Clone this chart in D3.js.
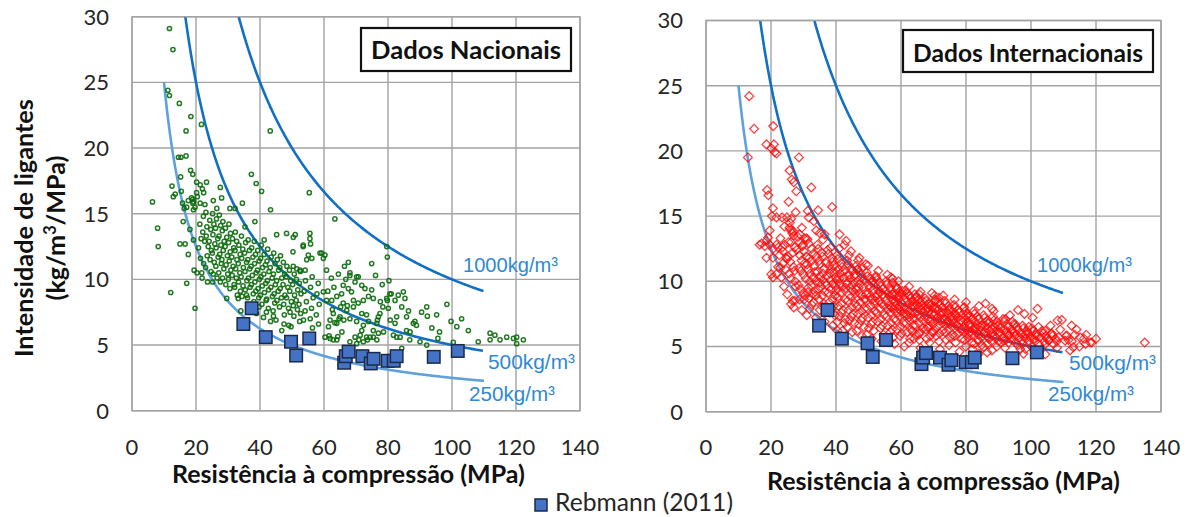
<!DOCTYPE html>
<html><head><meta charset="utf-8">
<script src="https://cdn.jsdelivr.net/npm/d3@7"></script>
<style>
html,body{margin:0;padding:0;background:#fff;}
svg{display:block;}
</style></head><body>
<svg id="chart" width="1190" height="517"></svg>
<script>
// ---- axis ticks ----
const xTicks = [0, 20, 40, 60, 80, 100, 120, 140];
const yTicks = [0, 5, 10, 15, 20, 25, 30];

// ---- iso-consumption reference curves (binder kg/m³) ----
const isoLevels = [1000, 500, 250];
const isoLabels = ["1000kg/m³", "500kg/m³", "250kg/m³"];
const isoStartX = [1000 / 30, 500 / 30, 10];
const isoEndX = 110;

// ---- Rebmann (2011): [strength MPa, intensity kg/m³/MPa] ----
const rebmann = [[34.8,6.6],[37.4,7.8],[41.8,5.6],[49.7,5.25],[51.3,4.2],[55.4,5.5],[66.3,3.65],[66.8,4.15],[67.7,4.5],[72.0,4.15],[74.6,3.6],[75.5,3.95],[79.9,3.8],[81.8,3.8],[82.7,4.15],[94.3,4.1],[101.8,4.55]];

// ---- national data ----
const dadosNacionais = [
[11.7,29.1],[12.8,27.5],[11.2,24.4],[11.7,24.0],[14.8,23.4],[18.4,22.4],[21.7,21.8],[16.9,21.3],[43.2,21.3],
[14.5,19.3],[16.9,19.4],[15.3,19.3],[18.3,18.3],[19.0,18.0],[15.2,17.8],[37.3,18.0],[38.8,17.3],[40.5,16.7],[27.6,17.0],
[20.2,17.4],[21.3,17.2],[23.3,17.4],[22.0,16.9],[22.4,16.6],[20.2,16.6],[12.5,17.1],[13.5,16.5],[12.9,16.3],[15.4,16.7],
[6.4,15.9],[15.8,15.8],[17.6,16.0],[19.0,16.1],[20.4,16.3],[16.3,15.4],[19.0,15.8],[21.3,15.8],[22.8,15.7],[25.4,16.0],[28.0,16.2],
[30.6,15.4],[32.2,15.4],[34.5,15.8],[43.3,15.3],[26.5,15.4],[8.0,13.9],[16.0,14.4],[38.4,14.4],[35.3,14.0],[48.3,13.5],[50.4,13.2],[45.2,13.4],[41.3,13.0],[15.0,12.7],[16.6,12.7],
[55.4,16.6],[63.4,14.6],[51.0,13.4],[55.6,13.5],[55.6,13.1],[55.8,12.7],[53.5,12.5],[79.6,12.5],[79.8,11.7],
[18.1,13.8],[19.2,13.0],[17.6,11.9],[8.2,12.5],[17.1,9.7],[12.1,9.0],[19.7,7.8],[19.4,10.7],[20.3,10.5],[21.8,10.5],[23.6,9.8],[25.2,9.8],[17.1,15.5],[19.2,15.3],[19.7,15.5],[18.6,16.2],[19.3,15.9],
[29.6,8.55],[33.2,8.55],[35.8,8.8],[44.2,7.2],[46.8,6.1],
[59.3,12.0],[60.3,11.85],[74.9,11.2],[60.8,10.7],[68.1,10.5],[70.2,10.2],[67.6,11.3],
[84.8,9.05],[85.3,8.55],[82.2,8.4],[83.2,8.8],[79.6,8.55],[92.1,7.9],[90.5,7.5],[92.3,7.2],[98.4,8.1],[103.0,7.0],[101.5,6.4],[105.1,6.1],[93.7,6.3],[87.9,6.65],[88.4,6.8],[88.9,6.5],[85.8,6.1],[86.9,6.0],[92.1,5.0],[84.3,4.75],[90.0,5.25],
[108.2,5.25],[111.9,5.9],[111.9,5.4],[113.4,5.75],[115.0,5.4],[117.1,5.6],[119.2,5.5],[120.2,5.1],[122.3,5.4],[120.2,5.6],
[49.7,6.4],[61.9,5.5],[62.9,5.4],[64.0,5.4],[68.1,5.25],[70.2,5.1],[72.3,5.25],[73.3,5.6],[75.4,5.6],[81.7,5.75],[82.7,5.6],
[85.8,7.15],[84.3,7.9],[80.6,8.9],[79.8,8.4],[80.1,7.8],[82.7,7.15],[82.2,6.65],[83.8,5.6],
[77.5,7.4],[77.0,7.15],[76.5,6.65],[75.4,6.1],[74.4,5.6],[73.3,7.3],[73.9,6.8],[72.3,6.5],[71.8,6.1],[71.3,5.75],
[68.1,10.3],[70.7,10.2],[69.7,9.8],[71.8,9.55],[72.8,9.3],[74.9,9.2],[75.4,8.55],[73.9,8.7],[72.3,8.4],[70.7,8.2],[69.2,8.4],[68.6,9.05],[67.6,9.3],[66.0,9.55],[65.5,8.9],[64.0,8.7],[62.4,8.4],[60.8,8.4],[59.8,9.05],[61.2,9.1],
[66.0,8.2],[67.1,7.65],[65.0,7.15],[62.9,7.4],[61.9,6.9],[61.4,6.4],[64.0,6.65],[68.1,7.0],[70.2,6.8],[71.8,7.4],[69.2,7.9],
[69.7,5.6],[70.9,5.4],[73.6,5.4],[76.5,5.4],[77.0,5.9],[60.3,5.6],[61.6,5.7],[64.3,5.65],
[53.5,12.6],[55.1,11.85],[56.2,11.6],[54.6,11.5],[54.1,10.7],[52.5,10.7],[51.5,10.8],[50.4,11.0],[58.75,12.0],[59.8,11.6],
[21.2,14.2],[21.6,13.1],[20.8,12.4],[21.4,11.6],
[22.3,14.8],[22.1,13.6],[22.7,12.9],[22.4,11.2],[21.9,10.1],
[23.1,15.1],[23.4,14.0],[23.2,13.3],[23.8,12.5],[23.5,11.8],[23.0,10.9],
[24.3,14.5],[24.6,13.8],[24.1,12.9],[24.8,12.2],[24.4,11.5],[24.7,10.6],
[25.2,15.0],[25.6,14.2],[25.3,13.4],[25.9,12.7],[25.1,12.0],[25.7,11.3],[25.4,10.4],
[26.4,14.6],[26.1,13.9],[26.8,13.1],[26.3,12.4],[26.9,11.7],[26.2,11.0],[26.6,10.1],
[27.3,14.9],[27.7,14.1],[27.2,13.3],[27.8,12.6],[27.4,11.9],[27.9,11.2],[27.1,10.5],[27.6,9.8],
[28.4,14.4],[28.2,13.7],[28.8,12.9],[28.5,12.2],[28.1,11.5],[28.7,10.8],[28.3,10.1],
[29.2,13.9],[29.6,13.2],[29.1,12.5],[29.8,11.8],[29.4,11.1],[29.9,10.4],[29.3,9.6],
[30.3,14.2],[30.8,13.5],[30.2,12.8],[30.7,12.1],[30.4,11.4],[30.9,10.7],[30.1,10.0],[30.6,9.3],
[31.4,13.1],[31.8,12.4],[31.2,11.7],[31.6,11.0],[31.3,10.3],[31.9,9.6],
[32.3,13.6],[32.7,12.9],[32.2,12.2],[32.8,11.5],[32.4,10.8],[32.6,10.1],[32.1,9.4],[32.9,8.8],
[33.4,12.6],[33.8,11.9],[33.2,11.2],[33.7,10.5],[33.3,9.8],[33.9,9.1],
[34.2,13.3],[34.6,12.3],[34.3,11.6],[34.8,10.9],[34.1,10.2],[34.7,9.5],[34.4,8.7],
[35.5,12.8],[35.2,12.0],[35.8,11.3],[35.3,10.6],[35.9,9.9],[35.4,9.2],
[36.3,13.0],[36.7,12.2],[36.2,11.5],[36.8,10.8],[36.4,10.1],[36.9,9.4],[36.1,8.6],
[37.4,12.4],[37.8,11.7],[37.2,11.0],[37.6,10.3],[37.3,9.6],[37.9,8.9],
[38.2,12.9],[38.6,11.9],[38.3,11.2],[38.8,10.5],[38.4,9.8],[38.7,9.1],[38.1,8.3],
[39.3,12.2],[39.7,11.4],[39.2,10.7],[39.8,10.0],[39.4,9.3],[39.6,8.6],
[40.4,12.6],[40.2,11.6],[40.8,10.9],[40.3,10.2],[40.7,9.5],[40.1,8.8],[40.6,8.1],
[41.3,11.9],[41.7,11.1],[41.2,10.4],[41.8,9.7],[41.4,9.0],[41.9,8.4],
[42.4,12.3],[42.2,11.4],[42.8,10.6],[42.3,9.9],[42.7,9.2],[42.1,8.5],[42.6,7.8],
[43.5,11.7],[43.2,10.9],[43.8,10.1],[43.4,9.4],[43.9,8.7],
[44.3,12.0],[44.7,11.2],[44.2,10.4],[44.8,9.6],[44.4,8.9],[44.6,8.2],[44.1,7.6],
[45.4,11.5],[45.8,10.7],[45.2,9.9],[45.7,9.1],[45.3,8.4],
[46.4,11.8],[46.2,10.9],[46.8,10.1],[46.3,9.3],[46.7,8.6],[46.1,7.9],
[47.3,11.3],[47.7,10.4],[47.2,9.6],[47.8,8.8],[47.4,8.1],[47.6,7.3],
[48.4,11.0],[48.2,10.2],[48.7,9.4],[48.3,8.6],[48.9,7.8],
[49.2,10.7],[49.6,9.9],[49.3,9.1],[49.8,8.3],[49.4,7.5],
[50.3,12.1],[50.7,10.4],[50.2,9.6],[50.8,8.8],[50.4,8.0],[50.6,7.2],
[51.4,10.0],[51.8,9.2],[51.3,8.4],[51.7,7.7],
[52.6,10.6],[52.3,9.7],[52.8,8.9],[52.2,8.1],[52.7,7.4],[52.4,6.8],
[54.2,9.9],[53.8,9.1],[54.5,8.3],[54.1,7.6],[53.6,6.9],
[56.3,10.2],[55.8,9.4],[56.6,8.6],[56.1,7.8],[55.7,7.0],[56.4,6.3],
[58.2,9.7],[57.8,8.9],[58.5,8.1],[57.6,7.3],[58.3,6.6],
[62.3,10.1],[63.1,9.4],[62.6,7.7],[63.4,6.7],
[64.5,10.4],[65.2,7.9],[64.7,7.0],[65.6,6.0],
[66.4,11.0],[66.8,10.0],[67.3,8.0],[66.2,6.9],
[76.1,10.3],[77.6,8.3],[78.4,7.9],[76.7,6.9],
[78.2,9.6],[81.0,8.9],[78.6,6.0],[80.3,9.9],[80.7,6.9],
[86.4,7.6],[86.8,5.4],[95.2,7.3],[96.1,6.0],[95.6,5.5],[99.7,6.8],[100.4,5.2],
[34.0,7.6],[36.5,7.9],[38.9,7.4],[41.1,7.1],[43.3,6.8],[45.0,6.9],[47.5,6.6],[49.0,6.5],[42.0,7.5],[39.7,7.9]
];

// ---- international data ----
const dadosInternacionais = [
[13.3,24.2],[14.8,21.7],[20.7,21.9],[18.6,20.5],[20.1,20.2],[20.9,20.5],[21.1,19.9],[21.7,19.8],[12.9,19.5],[28.6,19.5],[25.7,18.5],[26.4,17.8],[27.0,17.6],[27.8,16.9],[32.4,17.2],[18.8,17.0],[19.2,16.6],[25.4,16.1],[20.6,15.6],[20.3,15.0],[21.7,14.9],[23.4,14.9],[24.9,14.9],[26.2,14.8],[27.6,15.3],[31.3,15.4],[34.5,15.45],[38.8,15.7],[31.6,14.9],[19.6,13.9],[17.1,12.9],[18.6,13.1],[19.1,13.35],[26.2,13.9],[27.0,13.5],[28.8,13.6],[30.3,13.3],[33.9,13.9],[35.0,13.7],[36.5,13.6],[41.1,13.6],[43.1,13.1],[42.6,12.8],[44.6,12.3],[25.7,14.1],[26.8,13.85],
[16.5,12.8],[18.1,12.7],[19.6,12.8],[20.6,12.5],[21.7,12.8],[18.6,11.8],[20.6,11.8],[22.2,12.6],[23.7,12.3],[24.7,11.8],[24.2,12.8],[26.2,13.0],[27.3,12.6],[30.9,13.3],[29.8,12.8],
[47.2,11.8],[49.2,11.3],[48.2,11.05],[46.7,10.9],[20.1,10.55],[20.6,10.3],[23.2,10.3],[22.9,11.05],[21.7,10.55],[52.3,10.3],[56.9,10.3],[57.4,9.9],[26.2,8.25],[27.3,8.5],[28.8,8.6],[31.3,9.15],[33.9,8.9],[26.7,8.5],[40.5,6.2],[56.4,5.45],
[57.4,10.2],[109.5,7.04],[92.1,7.1],[115.1,5.7],[118.7,5.3],[113.0,4.95],[112.0,4.7],[104.4,4.4],[111.0,5.85],[110.5,5.45],[108.5,5.7],[106.4,5.95],[105.4,5.45],[104.4,6.2],[102.3,6.5],[101.3,5.85],
[99.3,6.5],[98.3,5.95],[97.2,5.45],[96.7,4.8],[97.7,4.45],[95.2,6.7],[94.1,6.2],[93.1,5.85],[91.6,5.45],[89.1,6.7],[88.0,6.35],[90.1,5.95],[87.0,5.7],[86.0,6.1],[84.9,6.6],[83.9,5.45],[85.5,4.95],[86.5,4.55],[83.9,4.45],
[79.4,8.0],[80.1,7.35],[81.9,7.1],[80.9,6.7],[82.9,6.5],[78.8,6.35],[80.9,5.95],
[71.7,8.75],[70.7,8.5],[72.7,8.0],[74.8,7.75],[76.8,7.5],[75.8,7.0],[74.2,6.75],[72.7,7.1],[70.7,7.5],[69.6,8.0],[68.6,8.25],[67.6,7.75],[66.6,8.5],[65.6,9.0],[64.6,8.75],[63.5,8.5],[62.5,8.9],
[60.4,9.25],[59.4,8.9],[58.4,8.5],[60.0,8.0],[61.5,7.5],[62.5,7.25],[58.9,9.5],[57.4,9.0],[56.9,8.0],
[62.5,5.3],[64.0,5.6],[65.6,5.95],[63.5,6.2],[68.1,6.5],[69.6,6.1],[135.0,5.3],[120.0,5.6],[117.0,5.9],[114.0,6.3],[112.5,6.6],[102.0,7.9],[98.0,7.5],[96.0,7.8],[88.0,7.9],[86.0,8.3],
[22.6,12.0],[23.8,11.4],[24.5,10.9],[22.9,13.3],[24.1,14.2],
[25.4,13.0],[26.7,12.2],[25.9,11.5],[27.2,10.8],[26.1,10.2],[27.6,9.6],[25.8,14.5],
[28.3,13.4],[29.6,12.7],[28.9,12.0],[30.4,11.4],[29.2,10.8],[30.7,10.2],[28.5,9.7],[29.9,9.1],[30.2,8.6],
[31.2,13.2],[32.5,12.5],[31.8,11.8],[33.3,11.2],[32.1,10.6],[33.7,10.0],[31.5,9.5],[32.8,9.0],[33.1,8.4],[31.9,7.9],
[34.3,12.8],[35.6,12.2],[34.9,11.6],[36.4,11.0],[35.2,10.4],[36.7,9.9],[34.6,9.4],[35.9,8.9],[36.2,8.3],[35.0,7.8],
[37.4,12.4],[38.7,11.8],[38.0,11.2],[39.5,10.7],[38.3,10.1],[39.8,9.6],[37.6,9.1],[39.0,8.6],[39.3,8.1],[38.1,7.6],
[40.3,12.0],[41.6,11.4],[40.9,10.9],[42.4,10.3],[41.2,9.8],[42.7,9.3],[40.5,8.8],[41.9,8.3],[42.2,7.8],[41.0,7.3],[42.6,6.8],
[43.4,11.6],[44.7,11.0],[44.0,10.5],[45.5,10.0],[44.3,9.5],[45.8,9.0],[43.6,8.5],[45.0,8.0],[45.3,7.5],[44.1,7.0],
[46.3,11.2],[47.6,10.6],[46.9,10.1],[48.4,9.6],[47.2,9.1],[48.7,8.6],[46.5,8.1],[47.9,7.7],[48.2,7.2],[47.0,6.7],
[49.4,10.7],[50.7,10.2],[50.0,9.7],[51.5,9.3],[50.3,8.8],[51.8,8.3],[49.6,7.9],[51.0,7.4],[51.3,6.9],[50.1,6.4],
[52.3,10.4],[53.6,9.9],[52.9,9.4],[54.4,9.0],[53.2,8.5],[54.7,8.1],[52.5,7.6],[53.9,7.1],[54.2,6.6],
[55.4,10.0],[56.7,9.5],[56.0,9.1],[57.5,8.6],[56.3,8.2],[57.8,7.8],[55.6,7.3],[57.0,6.8],[57.3,6.3],
[58.3,9.6],[59.6,9.2],[58.9,8.8],[60.4,8.3],[59.2,7.9],[60.7,7.5],[58.5,7.0],[59.9,6.5],[60.2,6.0],
[61.4,9.3],[62.7,8.9],[62.0,8.5],[63.5,8.1],[62.3,7.7],[63.8,7.2],[61.6,6.8],[63.0,6.3],
[64.3,9.0],[65.6,8.6],[64.9,8.2],[66.4,7.8],[65.2,7.4],[66.7,7.0],[64.5,6.6],[65.9,6.1],
[67.4,8.7],[68.7,8.3],[68.0,7.9],[69.5,7.5],[68.3,7.1],[69.8,6.7],[67.6,6.3],[69.0,5.8],
[70.3,8.9],[71.6,8.4],[70.9,8.0],[72.4,7.6],[71.2,7.2],[72.7,6.8],[70.5,6.4],[71.9,6.0],
[73.4,8.5],[74.7,8.1],[74.0,7.7],[75.5,7.3],[74.3,6.9],[75.8,6.5],[73.6,6.1],[75.0,5.7],
[76.3,8.2],[77.6,7.8],[76.9,7.4],[78.4,7.0],[77.2,6.6],[78.7,6.2],[76.5,5.8],
[79.4,8.0],[80.7,7.5],[80.0,7.1],[81.5,6.7],[80.3,6.3],[81.8,5.9],[79.6,5.5],
[82.3,7.7],[83.6,7.3],[82.9,6.9],[84.4,6.5],[83.2,6.1],[84.7,5.7],[82.5,5.2],
[85.4,7.4],[86.7,7.0],[86.0,6.6],[87.5,6.2],[86.3,5.8],[87.8,5.4],
[88.3,7.3],[89.6,6.9],[88.9,6.5],[90.4,6.1],[89.2,5.7],[90.7,5.3],
[91.4,7.1],[92.7,6.7],[92.0,6.3],[93.5,5.9],[92.3,5.5],
[94.3,6.9],[95.6,6.5],[94.9,6.1],[96.4,5.7],[95.2,5.3],
[97.4,6.6],[98.7,6.2],[98.0,5.8],[99.5,5.4],[98.3,4.8],
[100.3,6.4],[101.6,6.0],[100.9,5.6],[102.4,5.2],
[103.4,6.2],[104.7,5.8],[104.0,5.4],
[106.3,6.0],[107.6,5.6],[106.9,5.2],[108.2,7.0],
[110.8,5.8],[112.6,5.4],[114.9,5.0],[116.3,5.6],[118.2,5.3],
[23.5,12.6],[24.9,11.7],[22.2,11.1],[26.5,13.7],[27.9,12.4],[25.3,11.9],[26.9,11.1],[25.6,10.6],[27.4,10.0],
[28.8,13.0],[30.1,12.3],[29.4,11.6],[28.6,11.0],[30.0,10.5],[29.0,9.4],[30.5,8.9],
[31.6,12.9],[32.9,12.1],[32.3,11.5],[31.4,10.9],[33.0,10.3],[32.4,9.7],[33.6,9.2],[31.7,8.7],[32.6,8.2],
[34.5,12.5],[35.8,11.9],[35.1,11.3],[34.2,10.7],[35.9,10.1],[35.4,9.6],[36.6,9.2],[34.8,8.6],[35.6,8.1],[36.8,7.7],
[37.7,12.1],[38.9,11.5],[38.4,10.9],[37.2,10.4],[39.0,9.8],[38.5,9.4],[39.7,8.9],[37.9,8.4],[38.8,7.9],[39.6,7.4],
[40.6,11.7],[41.9,11.1],[41.3,10.6],[40.2,10.1],[42.0,9.6],[41.5,9.1],[42.8,8.6],[40.8,8.1],[41.6,7.6],[42.9,7.1],[40.4,6.9],
[43.7,11.3],[45.0,10.8],[44.4,10.2],[43.3,9.8],[45.1,9.3],[44.6,8.8],[45.9,8.3],[43.9,7.8],[44.7,7.3],[45.7,6.8],[43.5,6.5],
[46.6,10.9],[47.9,10.3],[47.3,9.8],[46.2,9.4],[48.0,8.9],[47.5,8.4],[48.8,7.9],[46.8,7.5],[47.7,7.0],[48.6,6.5],[46.4,6.2],
[49.7,10.4],[51.0,9.9],[50.4,9.5],[49.3,9.0],[51.1,8.6],[50.6,8.1],[51.9,7.7],[49.9,7.2],[50.8,6.7],[51.6,6.2],[49.5,5.9],
[52.6,10.1],[53.9,9.6],[53.3,9.2],[52.2,8.8],[54.0,8.3],[53.5,7.9],[54.8,7.4],[52.8,6.9],[53.7,6.4],[54.6,5.9],
[55.7,9.8],[57.0,9.3],[56.4,8.9],[55.3,8.5],[57.1,8.0],[56.6,7.6],[57.9,7.1],[55.9,6.6],[56.8,6.1],[57.6,5.7],
[58.6,9.4],[59.9,9.0],[59.3,8.6],[58.2,8.1],[60.0,7.7],[59.5,7.3],[60.8,6.8],[58.8,6.3],[59.7,5.8],
[61.7,9.1],[63.0,8.7],[62.4,8.3],[61.3,7.9],[63.1,7.5],[62.6,7.0],[63.9,6.6],[61.9,6.1],[62.8,5.6],
[64.6,8.8],[65.9,8.4],[65.3,8.0],[64.2,7.6],[66.0,7.2],[65.5,6.8],[66.8,6.4],[64.8,5.9],[65.7,5.5],
[67.7,8.5],[69.0,8.1],[68.4,7.7],[67.3,7.3],[69.1,6.9],[68.6,6.5],[69.9,6.1],[67.9,5.6],[68.8,5.3],
[70.6,8.6],[71.9,8.2],[71.3,7.8],[70.2,7.4],[72.0,7.0],[71.5,6.6],[72.8,6.2],[70.8,5.8],[71.7,5.4],
[73.7,8.3],[75.0,7.9],[74.4,7.5],[73.3,7.1],[75.1,6.7],[74.6,6.3],[75.9,5.9],[73.9,5.5],[74.8,5.1],
[76.6,8.0],[77.9,7.6],[77.3,7.2],[76.2,6.8],[78.0,6.4],[77.5,6.0],[78.8,5.6],[76.8,5.3],
[79.7,7.7],[81.0,7.3],[80.4,6.9],[79.3,6.5],[81.1,6.1],[80.6,5.7],[81.9,5.3],[79.9,5.0],
[82.6,7.5],[83.9,7.1],[83.3,6.7],[82.2,6.3],[84.0,5.9],[83.5,5.5],[84.8,5.1],
[85.7,7.2],[87.0,6.8],[86.4,6.4],[85.3,6.0],[87.1,5.6],[86.6,5.2],
[88.6,7.0],[89.9,6.6],[89.3,6.2],[88.2,5.8],[90.0,5.4],[89.5,5.0],
[91.7,6.9],[93.0,6.5],[92.4,6.1],[91.3,5.7],[93.1,5.3],
[94.6,6.7],[95.9,6.3],[95.3,5.9],[94.2,5.5],[96.0,5.1],
[97.7,6.4],[99.0,6.0],[98.4,5.6],[97.3,5.2],
[100.6,6.2],[101.9,5.8],[101.3,5.4],[100.2,5.0],
[103.7,6.0],[105.0,5.6],[104.4,5.2],
[106.6,5.8],[107.9,5.4],[109.0,6.3],
[111.5,5.5],[113.5,5.9],[116.8,5.2],
[30.8,11.9],[31.1,11.3],[32.0,10.0],[33.5,10.7],[34.0,11.9],[34.9,9.9],[36.0,10.6],[36.9,11.4],[37.0,9.7],[38.2,10.6],[39.2,11.2],[39.9,10.3],[40.0,9.3],[41.1,10.2],[42.2,10.8],[43.0,9.5],[43.8,10.4],[44.9,9.7],[45.6,10.4],[46.0,8.7],[47.0,9.5],[48.5,10.1],[49.0,8.6],[50.0,9.1],[51.3,10.0],[52.0,8.5],[52.9,9.0],[54.3,9.4],[55.0,8.8],[56.0,7.9],[57.4,9.0],[58.0,8.4],[59.0,7.6],[60.5,9.0],[61.0,8.0],[62.0,7.4],[63.3,8.4],[64.0,8.1],[65.0,7.7],[66.2,8.2],[67.0,7.6],[68.2,8.0],[69.4,7.1],[70.5,7.9],[72.2,7.4],[73.0,7.6],[74.5,7.0],[76.0,7.2],[77.8,6.8],[79.0,6.9],[81.3,6.5],[83.0,6.4],[84.5,6.2],[86.2,6.9],[88.0,6.0],[90.5,6.4],[92.8,6.0],[95.0,5.8],[97.0,6.0],[99.8,5.7],[102.8,5.7],[105.6,5.5],
[29.5,14.1],[33.2,14.6],[36.0,13.2],[38.4,12.6],[40.9,12.5],[44.0,12.0],[46.8,11.6],[49.8,11.2],[53.0,10.8],[55.8,10.5],[59.2,10.0],[62.5,9.6],[66.0,9.2],[69.5,9.1],[73.0,8.9],[76.5,8.6],[80.0,8.4],[84.0,8.1],[88.5,7.7],[93.5,7.4],[100.5,7.2],[106.0,6.6],
[24.0,9.6],[25.0,9.0],[27.0,8.0],[29.5,7.8],[31.0,7.4],[33.8,7.2],[36.5,6.9],[39.0,6.6],[42.0,6.2],[45.0,6.1],[48.0,5.8],[51.0,5.6],[54.0,5.4],[58.0,5.2],[61.0,5.0],[66.0,4.9],[72.0,4.8],[78.0,4.6],[82.0,4.8],[88.0,4.7],[92.0,4.9],[101.0,4.7],[108.0,4.9]
];

// ---- drawing ----
const svg = d3.select("#chart");
const FONT = "Lato, 'Open Sans', sans-serif";
const ARIAL = "'Liberation Sans', Arial, sans-serif";
const GRID = "#a3a3a3";
const CURVE_DARK = "#1170c3";
const CURVE_LIGHT = "#5fa1dc";
const LABEL_BLUE = "#2f89d6";

// shrink/grow a text element's font so its advance width equals `target`
function fitWidth(sel, target) {
  const w = sel.node().getComputedTextLength();
  const fs = parseFloat(sel.attr("font-size"));
  sel.attr("font-size", (fs * target / w).toFixed(2));
  return sel;
}

const panels = [
  {
    id: "nac", left: 132, right: 580, top: 16.7, bottom: 410.7,
    data: dadosNacionais, marker: "circle",
    title: "Dados Nacionais", box: [361, 28, 210, 43], titleBase: 59, titleW: 190,
    xTitle: { cx: 348.5, base: 483 },
    isoPos: [[463, 272, 95], [488, 369, 87], [469, 401, 86]]
  },
  {
    id: "int", left: 706, right: 1161, top: 20.5, bottom: 411.7,
    data: dadosInternacionais, marker: "diamond",
    title: "Dados Internacionais", box: [903, 30, 250, 42], titleBase: 61.5, titleW: 230,
    xTitle: { cx: 943.5, base: 490 },
    isoPos: [[1037, 272, 95], [1069, 370, 87], [1048, 401, 86]]
  }
];

panels.forEach(p => {
  const x = d3.scaleLinear().domain([0, 140]).range([p.left, p.right]);
  const y = d3.scaleLinear().domain([0, 30]).range([p.bottom, p.top]);
  const g = svg.append("g").attr("class", "panel-" + p.id);

  g.append("clipPath").attr("id", "clip-" + p.id)
    .append("rect").attr("x", p.left).attr("y", p.top)
    .attr("width", p.right - p.left).attr("height", p.bottom - p.top);

  // gridlines
  g.append("g").selectAll("line").data(xTicks).join("line")
    .attr("x1", d => x(d)).attr("x2", d => x(d))
    .attr("y1", p.top).attr("y2", p.bottom)
    .attr("stroke", GRID).attr("stroke-width", 1.4);
  g.append("g").selectAll("line").data(yTicks).join("line")
    .attr("x1", p.left).attr("x2", p.right)
    .attr("y1", d => y(d)).attr("y2", d => y(d))
    .attr("stroke", GRID).attr("stroke-width", 1.4);

  // tick labels
  g.append("g").selectAll("text").data(xTicks).join("text")
    .attr("x", d => x(d)).attr("y", 455)
    .attr("text-anchor", "middle")
    .attr("font-family", FONT).attr("font-size", 22).attr("fill", "#262626")
    .text(d => d);
  g.append("g").selectAll("text").data(yTicks).join("text")
    .attr("x", p.left - 23).attr("y", d => y(d)).attr("dy", "0.36em")
    .attr("text-anchor", "end")
    .attr("font-family", FONT).attr("font-size", 22).attr("fill", "#262626")
    .text(d => d);

  // iso-consumption curves
  const line = d3.line().x(d => x(d[0])).y(d => y(d[1])).curve(d3.curveBasis);
  const curves = g.append("g").attr("clip-path", `url(#clip-${p.id})`);
  isoLevels.forEach((k, i) => {
    const pts = d3.range(isoStartX[i], isoEndX + 0.001, 0.5).map(v => [v, k / v]);
    curves.append("path").attr("d", line(pts))
      .attr("fill", "none")
      .attr("stroke", i === 2 ? CURVE_LIGHT : CURVE_DARK)
      .attr("stroke-width", 2.6);
  });

  // data points
  const pts = g.append("g").attr("clip-path", `url(#clip-${p.id})`);
  if (p.marker === "circle") {
    pts.selectAll("circle").data(p.data).join("circle")
      .attr("cx", d => x(d[0])).attr("cy", d => y(d[1])).attr("r", 2.1)
      .attr("fill", "none").attr("stroke", "#0c6c0c")
      .attr("stroke-width", 1.5).attr("stroke-opacity", 0.9);
  } else {
    const r = 4.4;
    pts.selectAll("path").data(p.data).join("path")
      .attr("d", d => {
        const cx = x(d[0]), cy = y(d[1]);
        return `M${cx},${cy - r}L${cx + r},${cy}L${cx},${cy + r}L${cx - r},${cy}Z`;
      })
      .attr("fill", "none").attr("stroke", "#ff0d0d")
      .attr("stroke-width", 1.25).attr("stroke-opacity", 0.8);
  }

  // Rebmann (2011)
  const s = 12.5;
  g.append("g").selectAll("rect").data(rebmann).join("rect")
    .attr("x", d => x(d[0]) - s / 2).attr("y", d => y(d[1]) - s / 2)
    .attr("width", s).attr("height", s)
    .attr("fill", "#4472c4").attr("stroke", "#1b2a48").attr("stroke-width", 1.5);

  // plot border
  g.append("rect").attr("x", p.left).attr("y", p.top)
    .attr("width", p.right - p.left).attr("height", p.bottom - p.top)
    .attr("fill", "none").attr("stroke", GRID).attr("stroke-width", 1.4);

  // curve labels
  isoLabels.forEach((t, i) => {
    const [lx, ly, lw] = p.isoPos[i];
    const tx = g.append("text").attr("x", lx).attr("y", ly)
      .attr("font-family", ARIAL).attr("font-size", 19).attr("fill", LABEL_BLUE)
      .text(t);
    fitWidth(tx, lw);
  });

  // panel title box
  const [bx, by, bw, bh] = p.box;
  g.append("rect").attr("x", bx).attr("y", by).attr("width", bw).attr("height", bh)
    .attr("fill", "#fff").attr("stroke", "#111").attr("stroke-width", 2.2);
  const tt = g.append("text").attr("x", bx + bw / 2).attr("y", p.titleBase)
    .attr("text-anchor", "middle").attr("font-family", FONT).attr("font-weight", 700)
    .attr("font-size", 24).attr("fill", "#111").text(p.title);
  fitWidth(tt, p.titleW);

  // x axis title
  const xt = g.append("text").attr("x", p.xTitle.cx).attr("y", p.xTitle.base)
    .attr("text-anchor", "middle").attr("font-family", FONT).attr("font-weight", 700)
    .attr("font-size", 22).attr("fill", "#111").text("Resistência à compressão (MPa)");
  fitWidth(xt, 353);
});

// y axis title (left panel only)
const yt1 = svg.append("text").attr("transform", "translate(33,228) rotate(-90)")
  .attr("text-anchor", "middle").attr("font-family", FONT).attr("font-weight", 700)
  .attr("font-size", 22).attr("fill", "#111").text("Intensidade de ligantes");
fitWidth(yt1, 258);
const yt2 = svg.append("text").attr("transform", "translate(65,228) rotate(-90)")
  .attr("text-anchor", "middle").attr("font-family", FONT).attr("font-weight", 700)
  .attr("font-size", 22).attr("fill", "#111");
yt2.append("tspan").text("(kg/m");
yt2.append("tspan").attr("baseline-shift", "super").attr("font-size", "0.65em").text("3");
yt2.append("tspan").text("/MPa)");
fitWidth(yt2, 145);

// legend
const legend = svg.append("g");
legend.append("rect").attr("x", 535).attr("y", 499).attr("width", 12).attr("height", 12)
  .attr("fill", "#4472c4").attr("stroke", "#1b2a48").attr("stroke-width", 1.5);
const lt = legend.append("text").attr("x", 555).attr("y", 511)
  .attr("font-family", FONT).attr("font-size", 22).attr("fill", "#262626")
  .text("Rebmann (2011)");
fitWidth(lt, 178);
</script>
</body></html>
